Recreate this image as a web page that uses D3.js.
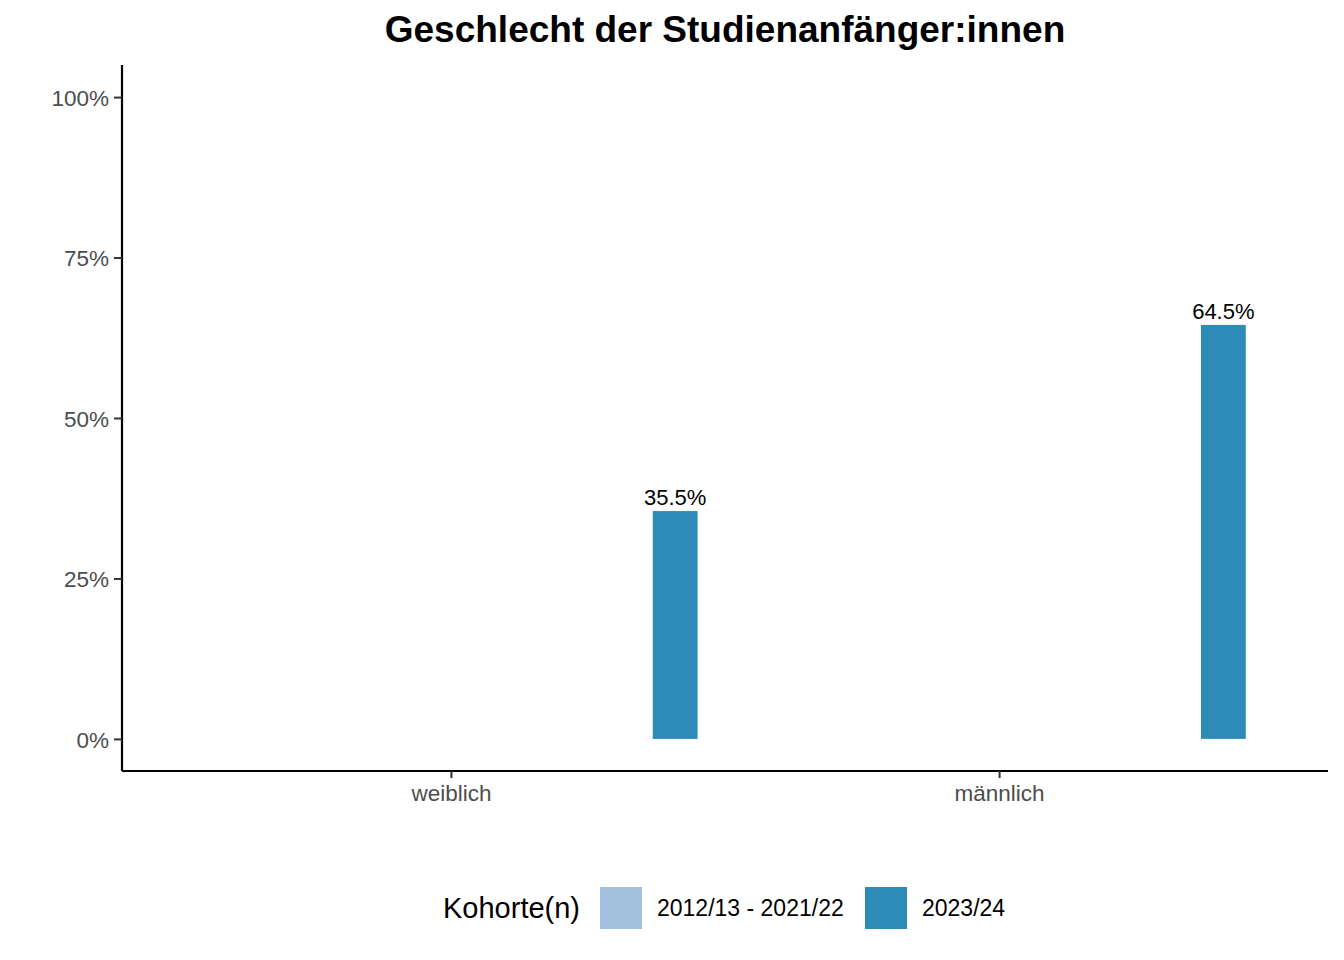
<!DOCTYPE html>
<meta charset="utf-8">
<style>
    body { margin: 0; background: #fff; }
    text { font-family: "Liberation Sans", Arial, sans-serif; }
    .tick text { fill: #4d4d4d; font-size: 22.5px; }
    .tick line { stroke: #333; stroke-width: 2; }
    .domain { stroke: #000; stroke-width: 2.2; }
</style>
<svg width="1344" height="960"></svg>
<script src="https://d3js.org/d3.v7.min.js"></script>
<script>
    // categories on the x axis
    var categories = ["weiblich", "männlich"];
    // dodge positions: ten earlier cohorts and the current one
    var cohorts = ["2012/13", "2013/14", "2014/15", "2015/16", "2016/17", "2017/18",
        "2018/19", "2019/20", "2020/21", "2021/22", "2023/24"];
    // share per cohort (%), null = no bar drawn
    var weiblich = [null, null, null, null, null, null, null, null, null, null, 35.5];
    var maennlich = [null, null, null, null, null, null, null, null, null, null, 64.5];
    var yTicks = [0, 25, 50, 75, 100];
    var legendLabels = ["2012/13 - 2021/22", "2023/24"];
    var legendColors = ["#a3c1de", "#2e8bb8"];

    var svg = d3.select("svg"),
        margin = { top: 65, right: 16, bottom: 189, left: 122 },
        width = +svg.attr("width") - margin.left - margin.right,
        height = +svg.attr("height") - margin.top - margin.bottom;

    var g = svg.append("g")
        .attr("transform", "translate(" + margin.left + "," + margin.top + ")");

    // ggplot-like discrete expansion: 0.6 units on each side
    var step = width / (categories.length - 1 + 1.2);
    var x = d3.scalePoint()
        .domain(categories)
        .range([0.6 * step, width - 0.6 * step]);

    var inner = d3.scaleBand()
        .domain(cohorts)
        .range([-0.45 * step, 0.45 * step]);

    var y = d3.scaleLinear()
        .domain([-5, 105])
        .range([height, 0]);

    var rows = [];
    categories.forEach(function (c, ci) {
        var vals = ci === 0 ? weiblich : maennlich;
        cohorts.forEach(function (k, ki) {
            if (vals[ki] != null) rows.push({ cat: c, cohort: k, value: vals[ki] });
        });
    });

    function colorOf(k) {
        return k === "2023/24" ? legendColors[1] : legendColors[0];
    }

    g.selectAll(".bar")
        .data(rows)
        .enter().append("rect")
        .attr("class", "bar")
        .attr("x", function (d) { return x(d.cat) + inner(d.cohort); })
        .attr("width", inner.bandwidth())
        .attr("y", function (d) { return y(d.value); })
        .attr("height", function (d) { return y(0) - y(d.value); })
        .attr("fill", function (d) { return colorOf(d.cohort); });

    g.selectAll(".label")
        .data(rows)
        .enter().append("text")
        .attr("class", "label")
        .attr("x", function (d) { return x(d.cat) + inner(d.cohort) + inner.bandwidth() / 2; })
        .attr("y", function (d) { return y(d.value) - 6; })
        .attr("text-anchor", "middle")
        .attr("font-size", "22px")
        .attr("fill", "#000")
        .text(function (d) { return d.value.toFixed(1) + "%"; });

    var yAxis = g.append("g")
        .call(d3.axisLeft(y).tickValues(yTicks).tickSize(8).tickPadding(5)
            .tickFormat(function (d) { return d + "%"; }));
    yAxis.select(".domain").attr("d", "M0," + height + "V0");
    yAxis.selectAll(".tick text").attr("dy", "0.36em");

    var xAxis = g.append("g")
        .attr("transform", "translate(0," + height + ")")
        .call(d3.axisBottom(x).tickSize(7).tickPadding(5));
    xAxis.select(".domain").attr("d", "M0,0H" + width);
    xAxis.selectAll(".tick text").attr("dy", "0.78em");

    svg.append("text")
        .attr("x", margin.left + width / 2)
        .attr("y", 42)
        .attr("text-anchor", "middle")
        .attr("font-size", "37px")
        .attr("font-weight", "bold")
        .attr("fill", "#000")
        .text("Geschlecht der Studienanfänger:innen");

    // legend
    var lg = svg.append("g").attr("transform", "translate(0,908)");
    lg.append("text")
        .attr("x", 443)
        .attr("y", 0)
        .attr("dy", "0.36em")
        .attr("font-size", "29px")
        .attr("fill", "#000")
        .text("Kohorte(n)");
    var keyX = [600, 865];
    legendLabels.forEach(function (lab, i) {
        lg.append("rect")
            .attr("x", keyX[i])
            .attr("y", -21)
            .attr("width", 42)
            .attr("height", 42)
            .attr("fill", legendColors[i]);
        lg.append("text")
            .attr("x", keyX[i] + 57)
            .attr("y", 0)
            .attr("dy", "0.36em")
            .attr("font-size", "23px")
            .attr("fill", "#000")
            .text(lab);
    });
</script>
